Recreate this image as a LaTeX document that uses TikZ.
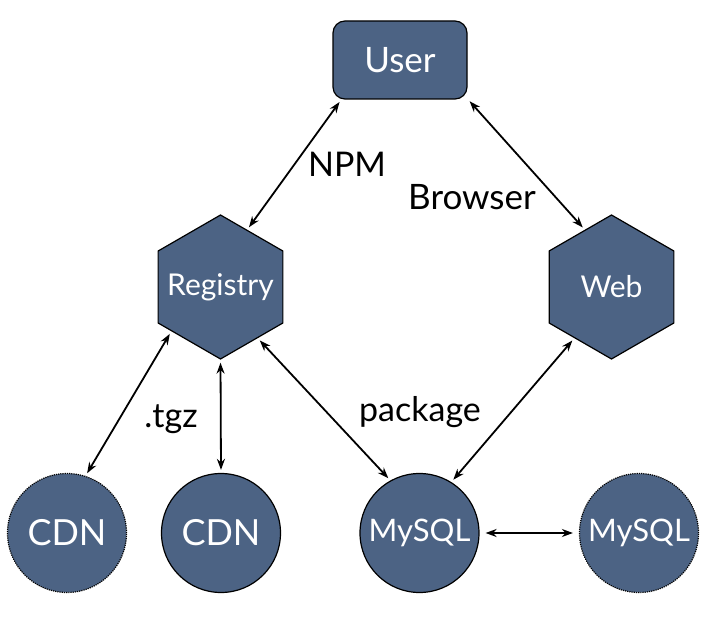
\documentclass[tikz,border=0pt]{standalone}
\usepackage{fontspec}
\setmainfont{Lato}
\usepackage{tikz}
\usetikzlibrary{arrows.meta,shapes.geometric,positioning}
\definecolor{knoten}{RGB}{76,99,132}

\begin{document}
\begin{tikzpicture}[x=1pt,y=-1pt,
  box/.style={draw=black,line width=1.2pt,fill=knoten,text=white,font=\fontsize{30}{34}\selectfont},
  hexa/.style={box,regular polygon,regular polygon sides=6,shape border rotate=30,minimum size=144pt,inner sep=0pt},
  kreis/.style={box,circle,minimum size=119pt,inner sep=0pt,font=\fontsize{36}{40}\selectfont},
  kopie/.style={kreis,densely dotted},
  pfeil/.style={line width=1.8pt,{Stealth[length=11pt,width=8pt]}-{Stealth[length=11pt,width=8pt]},shorten <=3pt,shorten >=3pt},
  beschr/.style={font=\fontsize{34}{38}\selectfont,anchor=base}]
%Bildgroesse wie die Vorlage in Pixel
\useasboundingbox (0,0) rectangle (715,617);
  \pgfmathsetmacro{\yHex}{287}
  \pgfmathsetmacro{\yUnten}{533}
%Knoten
\node[box,rounded corners=12pt,minimum width=134pt,minimum height=78pt,font=\fontsize{35}{40}\selectfont] (user) at (400,60) {User};
\node[hexa,label={[text=white,font=\fontsize{30}{34}\selectfont]center:Registry}] (registry) at (220.5,\yHex) {};
\node[hexa,label={[text=white,font=\fontsize{30}{34}\selectfont]center:Web}] (web) at (611.5,\yHex) {};
\node[kopie] (cdnA) at (67,\yUnten) {CDN};
\node[kreis] (cdnB) at (221,\yUnten) {CDN};
\node[kreis,font=\fontsize{31}{36}\selectfont] (mysqlA) at (419.5,\yUnten) {MySQL};
\node[kopie,font=\fontsize{31}{36}\selectfont] (mysqlB) at (639,\yUnten) {MySQL};
%Verbindungen
\draw[pfeil] (user.214) -- (registry.65);
\draw[pfeil] (user.-30) -- (web.115);
\draw[pfeil] (registry.222) -- (cdnA.72);
\draw[pfeil] (registry.-90) -- (cdnB.90);
\draw[pfeil] (registry.-54) -- (mysqlA.119);
\draw[pfeil] (web.234) -- (mysqlA.58);
\draw[pfeil,shorten <=6pt,shorten >=6pt] (mysqlA.east) -- (mysqlB.west);
%Beschriftungen
\node[beschr] (npm) at (347,177) {NPM};
\node[beschr,font=\fontsize{35}{40}\selectfont] (browser) at (472,210) {Browser};
\node[beschr] (tgz) at (171,428) {.tgz};
\node[beschr] (package) at (420,422) {package};
\end{tikzpicture}
\end{document}
